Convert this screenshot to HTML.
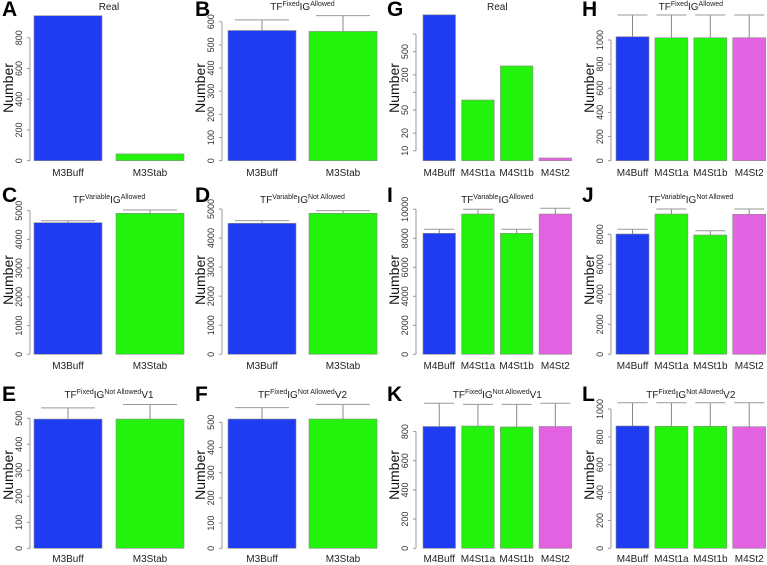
<!DOCTYPE html>
<html><head><meta charset="utf-8"><style>
html,body{margin:0;padding:0;background:#fff;}
svg{display:block;font-family:"Liberation Sans",Arial,sans-serif;}
</style></head><body>
<svg id="fig" width="767" height="565" viewBox="0 0 767 565" xmlns="http://www.w3.org/2000/svg"></svg>
<script>
const catsM3 = ["M3Buff","M3Stab"];
const catsM4 = ["M4Buff","M4St1a","M4St1b","M4St2"];
const colorsM3 = ["#1f3cf2","#22f20c"];
const colorsM4 = ["#1f3cf2","#22f20c","#22f20c","#e262e2"];

const valsA = [943, 44];
const valsB = [562, 558];   const errB = [608, 626];
const valsC = [4582, 4909]; const errC = [4652, 5024];
const valsD = [4508, 4852]; const errD = [4598, 4944];
const valsE = [497, 497];   const errE = [540, 553];
const valsF = [513, 513];   const errF = [558, 571];
const valsG = [2140, 74, 284, 7.5];
const valsH = [1027, 1019, 1019, 1019]; const errH = [1207, 1207, 1207, 1207];
const valsI = [8345, 9676, 8345, 9676]; const errI = [8620, 10000, 8620, 10069];
const valsJ = [8020, 9353, 7953, 9333]; const errJ = [8333, 9687, 8240, 9687];
const valsK = [835, 838, 832, 835];     const errK = [994, 987, 987, 994];
const valsL = [878, 876, 876, 873];     const errL = [1045, 1045, 1045, 1045];

const ticksA = [0,200,400,600,800];
const ticksB = [0,100,200,300,400,500,600];
const ticksCD = [0,1000,2000,3000,4000,5000];
const ticksEF = [0,100,200,300,400,500];
const ticksG = [10,20,50,100,200,500,1000];
const tickLabelsG = ["10","20","50","","200","500",""];
const ticksH = [0,200,400,600,800,1000];
const ticksI = [0,2000,4000,6000,8000,10000];
const ticksJ = [0,2000,4000,6000,8000];
const ticksK = [0,200,400,600,800];
const ticksL = [0,200,400,600,800,1000];

const NS = "http://www.w3.org/2000/svg";
const svg = document.getElementById('fig');
function mk(tag, attrs, parent){
  const e = document.createElementNS(NS, tag);
  for (const k in attrs) e.setAttribute(k, attrs[k]);
  (parent||svg).appendChild(e);
  return e;
}
const cols = [
  {axisX:30, barX0:34, barW:68, step:82, letterX:2},
  {axisX:222, barX0:228, barW:68, step:81, letterX:195},
  {axisX:416, barX0:423, barW:32.5, step:38.7, letterX:387},
  {axisX:611, barX0:616, barW:33, step:38.9, letterX:582}
];
const rows = [
  {zero:160.7, xlab:176, title:10, letter:16, numY:88},
  {zero:354.3, xlab:369, title:203, letter:202, numY:280},
  {zero:548.3, xlab:562, title:398, letter:401, numY:475}
];

function titleSpans(t, parts){
  let cur='n';
  parts.forEach(p=>{
    const ts = mk('tspan', {}, t);
    if (p[1]==='s'){ ts.setAttribute('font-size','7'); ts.setAttribute('dy', cur==='n'?'-4':'0'); }
    else { ts.setAttribute('font-size','10'); ts.setAttribute('dy', cur==='s'?'4':'0'); }
    cur=p[1];
    ts.textContent = p[0];
  });
}

function panel(p){
  const c = cols[p.col], r = rows[p.row];
  const g = mk('g', {});
  
  
  let y;
  if (p.log){
    const y10 = r.zero - 10, pxDec = 58.3;
    y = v => y10 - (Math.log10(v) - 1) * pxDec;
  } else {
    const sc = p.scale;
    y = v => r.zero - v * sc;
  }
  const base = p.log ? r.zero : y(0);
  const top = y(p.ticks[p.ticks.length-1]);
  const bot = p.log ? y(p.ticks[0]) : y(0);
  const ax = mk('line', {x1:c.axisX, x2:c.axisX, y1:top, y2:bot, stroke:'#999', 'stroke-width':1}, g);
  
  
  const lx = c.axisX - 8;
  p.ticks.forEach((tv,i)=>{
    const ty = y(tv);
    mk('line', {x1:c.axisX-3, x2:c.axisX, y1:ty, y2:ty, stroke:'#999', 'stroke-width':1}, g);
    const lab = p.tickLabels ? p.tickLabels[i] : String(tv);
    if (lab){
      const t = mk('text', {x:lx, y:ty, 'font-size':9, fill:'#333', 'text-anchor':'middle',
        transform:'rotate(-90 '+lx+' '+ty+')'}, g);
      
      
      t.textContent = lab;
    }
  });
  const nx = c.axisX - 22;
  const nl = mk('text', {x:nx, y:r.numY, 'font-size':14, fill:'#111', 'text-anchor':'middle',
    'dominant-baseline':'central', transform:'rotate(-90 '+nx+' '+r.numY+')'}, g);
  
  
  nl.textContent = 'Number';
  p.vals.forEach((v,i)=>{
    const x = c.barX0 + i*c.step;
    const cx = x + c.barW/2;
    const yt = y(v);
    const b = mk('rect', {x:x, y:yt, width:c.barW, height:Math.max(base-yt,0), fill:p.colors[i], stroke:'#8a8a8a', 'stroke-width':0.6}, g);
    
    
    if (p.errs){
      const ye = y(p.errs[i]);
      const hw = p.cats.length===2 ? 27 : 15;
      mk('line', {x1:cx, x2:cx, y1:yt, y2:ye, stroke:'#888', 'stroke-width':1}, g);
      const cap = mk('line', {x1:cx-hw, x2:cx+hw, y1:ye, y2:ye, stroke:'#999', 'stroke-width':1}, g);
      
      
    }
    const xl = mk('text', {x:cx, y:r.xlab, 'font-size':10, fill:'#222', 'text-anchor':'middle'}, g);
    
    
    xl.textContent = p.cats[i];
  });
  const n = p.cats.length;
  const tcx = c.barX0 + ((n-1)*c.step + c.barW)/2;
  const t = mk('text', {x:tcx, y:r.title, fill:'#222', 'text-anchor':'middle'}, g);
  
  
  titleSpans(t, p.title);
  const L = mk('text', {x:c.letterX, y:r.letter, 'font-size':21, 'font-weight':'bold', fill:'#000'}, g);
  
  
  L.textContent = p.letter;
}

const tReal = [["Real","n"]];
const tFixA = [["TF","n"],["Fixed","s"],["IG","n"],["Allowed","s"]];
const tVarA = [["TF","n"],["Variable","s"],["IG","n"],["Allowed","s"]];
const tVarN = [["TF","n"],["Variable","s"],["IG","n"],["Not Allowed","s"]];
const tFixV1 = [["TF","n"],["Fixed","s"],["IG","n"],["Not Allowed","s"],["V1","n"]];
const tFixV2 = [["TF","n"],["Fixed","s"],["IG","n"],["Not Allowed","s"],["V2","n"]];

panel({letter:'A', col:0,row:0, cats:catsM3, colors:colorsM3, vals:valsA, ticks:ticksA, scale:123/800, title:tReal});
panel({letter:'B', col:1,row:0, cats:catsM3, colors:colorsM3, vals:valsB, errs:errB, ticks:ticksB, scale:139/600, title:tFixA});
panel({letter:'C', col:0,row:1, cats:catsM3, colors:colorsM3, vals:valsC, errs:errC, ticks:ticksCD, scale:143.6/5000, title:tVarA});
panel({letter:'D', col:1,row:1, cats:catsM3, colors:colorsM3, vals:valsD, errs:errD, ticks:ticksCD, scale:145.3/5000, title:tVarN});
panel({letter:'E', col:0,row:2, cats:catsM3, colors:colorsM3, vals:valsE, errs:errE, ticks:ticksEF, scale:130/500, title:tFixV1});
panel({letter:'F', col:1,row:2, cats:catsM3, colors:colorsM3, vals:valsF, errs:errF, ticks:ticksEF, scale:126/500, title:tFixV2});
panel({letter:'G', col:2,row:0, cats:catsM4, colors:colorsM4, vals:valsG, ticks:ticksG, tickLabels:tickLabelsG, log:true, title:tReal});
panel({letter:'H', col:3,row:0, cats:catsM4, colors:colorsM4, vals:valsH, errs:errH, ticks:ticksH, scale:120.7/1000, title:tFixA});
panel({letter:'I', col:2,row:1, cats:catsM4, colors:colorsM4, vals:valsI, errs:errI, ticks:ticksI, scale:145/10000, title:tVarA});
panel({letter:'J', col:3,row:1, cats:catsM4, colors:colorsM4, vals:valsJ, errs:errJ, ticks:ticksJ, scale:120/8000, title:tVarN});
panel({letter:'K', col:2,row:2, cats:catsM4, colors:colorsM4, vals:valsK, errs:errK, ticks:ticksK, scale:116.7/800, title:tFixV1});
panel({letter:'L', col:3,row:2, cats:catsM4, colors:colorsM4, vals:valsL, errs:errL, ticks:ticksL, scale:139.3/1000, title:tFixV2});
</script>
</body></html>
